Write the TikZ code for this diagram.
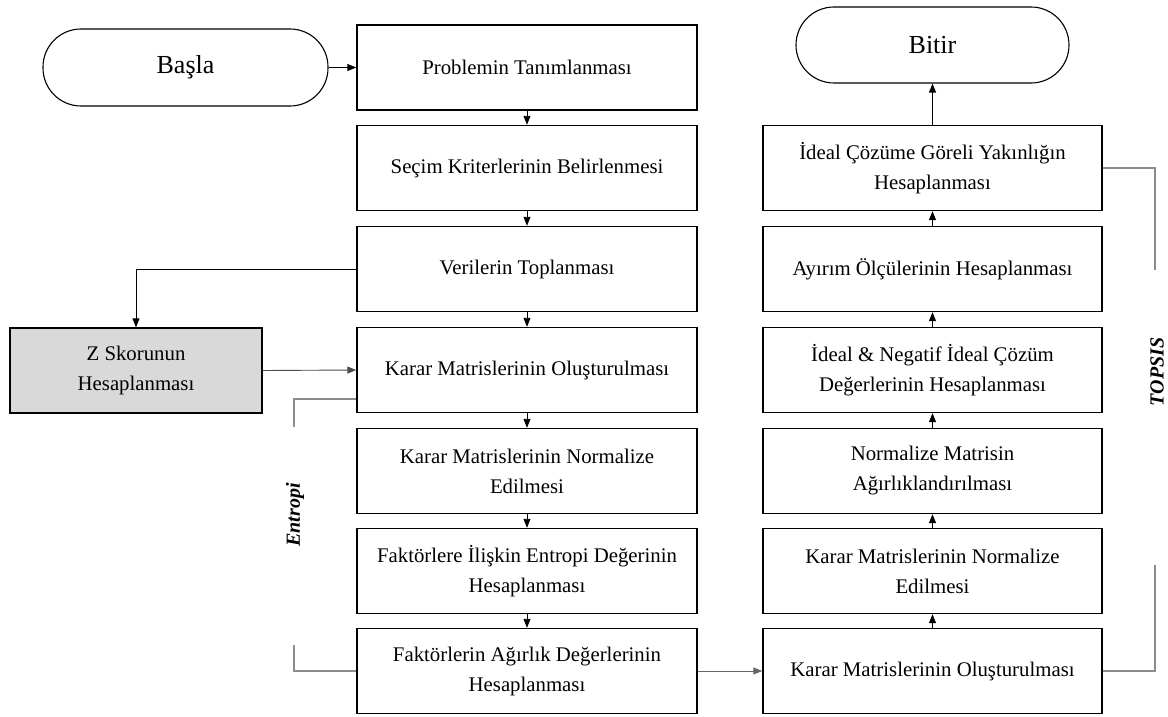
\documentclass[tikz,border=0pt]{standalone}
\usepackage{fontspec}
\setmainfont{Liberation Serif}
\usetikzlibrary{arrows.meta,positioning}
\tikzset{
  box/.style={draw=black, line width=1.4pt, minimum width=340pt, minimum height=85pt, align=center, inner sep=0pt, font=\fontsize{20.8}{30}\selectfont},
  term/.style={draw=black, line width=1.1pt, rounded corners=38pt, align=center, inner sep=0pt, font=\fontsize{26}{30}\selectfont},
  arr/.style={line width=0.9pt, -{Triangle[length=9pt,width=7pt]}},
  brk/.style={draw=black!45, line width=1.3pt},
  lbl/.style={font=\fontsize{20}{24}\selectfont\bfseries\itshape, rotate=90}
}
\begin{document}
\begin{tikzpicture}[x=1pt,y=-1pt]
\useasboundingbox (0,0) rectangle (1168,717);
% terminals
\node[term, minimum width=285pt, minimum height=77pt] (start) at (185.5,67.5) {Başla};
\node[term, minimum width=273pt, minimum height=76pt] (end) at (932.5,45) {Bitir};
% left column
\node[box] (L1) at (527,67.5) {Problemin Tanımlanması};
\node[box] (L2) at (527,168) {Seçim Kriterlerinin Belirlenmesi};
\node[box] (L3) at (527,269) {Verilerin Toplanması};
\node[box] (L4) at (527,370) {Karar Matrislerinin Oluşturulması};
\node[box] (L5) at (527,471) {Karar Matrislerinin Normalize\\Edilmesi};
\node[box] (L6) at (527,571) {Faktörlere İlişkin Entropi Değerinin\\Hesaplanması};
\node[box] (L7) at (527,671) {Faktörlerin Ağırlık Değerlerinin\\Hesaplanması};
% Z box
\node[box, fill=black!15, minimum width=252pt] (Z) at (136,370.5) {Z Skorunun\\Hesaplanması};
% right column
\node[box, minimum width=339pt] (R1) at (932.5,168) {İdeal Çözüme Göreli Yakınlığın\\Hesaplanması};
\node[box, minimum width=339pt] (R2) at (932.5,269) {Ayırım Ölçülerinin Hesaplanması};
\node[box, minimum width=339pt] (R3) at (932.5,370) {İdeal \& Negatif İdeal Çözüm\\Değerlerinin Hesaplanması};
\node[box, minimum width=339pt] (R4) at (932.5,471) {Normalize Matrisin\\Ağırlıklandırılması};
\node[box, minimum width=339pt] (R5) at (932.5,571) {Karar Matrislerinin Normalize\\Edilmesi};
\node[box, minimum width=339pt] (R6) at (932.5,671) {Karar Matrislerinin Oluşturulması};
% side labels
\node[lbl] (ent) at (295,515) {Entropi};
\node[lbl] (top) at (1157,372) {TOPSIS};
% arrows
\draw[arr] (start.east) -- (L1.west);
\draw[arr] (L1) -- (L2);
\draw[arr] (L2) -- (L3);
\draw[arr] (L3) -- (L4);
\draw[arr] (L4) -- (L5);
\draw[arr] (L5) -- (L6);
\draw[arr] (L6) -- (L7);
\draw[arr] (L3.west) -| (Z.north);
\draw[arr, draw=black!70] (Z.east) -- (L4.west);
\draw[arr, draw=black!60] (L7.east) -- (R6.west);
\draw[arr] (R6) -- (R5);
\draw[arr] (R5) -- (R4);
\draw[arr] (R4) -- (R3);
\draw[arr] (R3) -- (R2);
\draw[arr] (R2) -- (R1);
\draw[arr] (R1) -- (end);
% brackets
\coordinate (e1) at (294,427);
\coordinate (e2) at (294,645);
\coordinate (t1) at (1155,270);
\coordinate (t2) at (1155,565);
\draw[brk] (L4.west |- 0,399) -| (e1);
\draw[brk] (e2) |- (L7.west);
\draw[brk] (R1.east) -| (t1);
\draw[brk] (t2) |- (R6.east);
\end{tikzpicture}
\end{document}
